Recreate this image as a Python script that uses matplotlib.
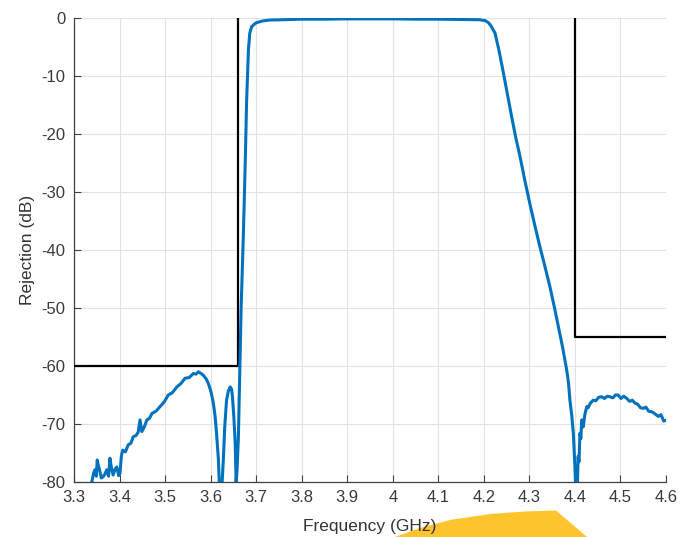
import numpy as np
import matplotlib
matplotlib.use("Agg")
import matplotlib.pyplot as plt
from matplotlib.patches import Polygon

plt.rcParams['font.family'] = ['Liberation Sans', 'DejaVu Sans']
plt.rcParams['axes.unicode_minus'] = False

freq = [3.335, 3.339, 3.343, 3.346, 3.349, 3.351, 3.353, 3.356, 3.360, 3.364, 3.368,
        3.372, 3.376, 3.379, 3.382, 3.386, 3.390, 3.394, 3.398, 3.401, 3.404,
        3.407, 3.413, 3.419, 3.425, 3.430, 3.436, 3.441, 3.445, 3.449, 3.455,
        3.460, 3.466, 3.471, 3.480, 3.489, 3.498, 3.507, 3.516, 3.526, 3.535,
        3.544, 3.553, 3.562, 3.568, 3.573, 3.579, 3.584, 3.590, 3.595, 3.601,
        3.606, 3.610, 3.613, 3.617, 3.619, 3.621, 3.624, 3.628, 3.631, 3.635,
        3.639, 3.643, 3.646, 3.648, 3.651, 3.654, 3.656, 3.658, 3.661, 3.663,
        3.667, 3.672, 3.676, 3.679, 3.683, 3.686, 3.690, 3.697, 3.701, 3.715,
        3.730, 3.760, 3.796, 3.850, 3.900, 3.950, 4.000, 4.050, 4.100, 4.150,
        4.190, 4.203, 4.210, 4.216, 4.2245, 4.233, 4.243, 4.252, 4.261, 4.270,
        4.2795, 4.290, 4.301, 4.312, 4.323, 4.334, 4.345, 4.355, 4.3635, 4.373,
        4.382, 4.386, 4.389, 4.393, 4.3965, 4.400, 4.403, 4.405, 4.407, 4.409,
        4.411, 4.413, 4.415, 4.418, 4.422, 4.426, 4.429, 4.434, 4.440, 4.446,
        4.452, 4.459, 4.465, 4.471, 4.477, 4.483, 4.489, 4.495, 4.501, 4.507,
        4.514, 4.520, 4.526, 4.532, 4.538, 4.544, 4.550, 4.556, 4.562, 4.569,
        4.575, 4.583, 4.589, 4.595, 4.602]
rej = [-80.5, -80.0, -78.5, -77.9, -79.0, -76.2, -77.0, -77.9, -79.3, -79.1, -78.6,
       -77.9, -79.0, -75.9, -77.5, -78.8, -77.8, -77.4, -78.9, -78.5, -75.5,
       -74.5, -74.8, -73.6, -73.3, -72.2, -72.0, -71.4, -69.3, -71.3, -70.4,
       -69.3, -69.0, -68.2, -67.8, -67.0, -66.2, -65.0, -64.6, -63.6, -63.0,
       -62.1, -62.0, -61.3, -61.4, -61.0, -61.3, -61.6, -62.2, -63.0, -64.5,
       -66.4, -68.8, -71.6, -76.0, -80.0, -84.0, -82.0, -76.0, -70.5, -65.9,
       -64.3, -63.6, -64.0, -65.3, -68.8, -73.3, -80.0, -78.0, -72.2, -64.7,
       -50.0, -37.1, -25.0, -14.5, -5.5, -2.6, -1.5, -1.0, -0.8, -0.5,
       -0.35, -0.3, -0.2, -0.2, -0.15, -0.15, -0.15, -0.2, -0.2, -0.25,
       -0.3, -0.45, -0.8, -1.4, -2.6, -5.5, -9.5, -13.3, -17.0, -20.6,
       -23.9, -28.0, -32.0, -35.8, -39.4, -42.8, -46.3, -49.9, -53.2, -56.8,
       -60.7, -63.0, -65.9, -68.5, -71.6, -77.4, -84.0, -82.0, -75.6, -76.5,
       -71.6, -72.5, -69.3, -70.5, -68.3, -67.0, -67.2, -66.4, -65.9, -66.0,
       -65.4, -65.3, -65.6, -65.2, -65.3, -65.5, -65.0, -65.0, -65.6, -65.2,
       -65.6, -66.1, -65.9, -66.4, -66.6, -67.2, -67.3, -67.1, -67.8, -67.9,
       -68.2, -68.7, -68.4, -69.5, -69.3]

# spec mask
mask_lo_f = [3.3, 3.66, 3.66]
mask_lo_db = [-60, -60, 0]
mask_hi_f = [4.4, 4.4, 4.6]
mask_hi_db = [0, -55, -55]

xticks = [3.3, 3.4, 3.5, 3.6, 3.7, 3.8, 3.9, 4.0, 4.1, 4.2, 4.3, 4.4, 4.5, 4.6]
xlabels = ['3.3', '3.4', '3.5', '3.6', '3.7', '3.8', '3.9', '4', '4.1', '4.2', '4.3', '4.4', '4.5', '4.6']
yticks = [-80, -70, -60, -50, -40, -30, -20, -10, 0]
ylabels = ['-80', '-70', '-60', '-50', '-40', '-30', '-20', '-10', '0']

fig = plt.figure(figsize=(6.91, 5.37), dpi=100)
ax = fig.add_axes([74/691, 1 - 482/537, 592/691, 464/537])

ax.plot(mask_lo_f, mask_lo_db, color='black', lw=1.6, zorder=3)
ax.plot(mask_hi_f, mask_hi_db, color='black', lw=1.6, zorder=3)
ax.plot(freq, rej, color='#0072BD', lw=2.2, zorder=4)

ax.set_xlim(3.3, 4.6)
ax.set_ylim(-80, 0)
ax.set_xticks(xticks)
ax.set_xticklabels(xlabels)
ax.set_yticks(yticks)
ax.set_yticklabels(ylabels)
ax.grid(True, color='#e2e2e2', lw=0.8)
ax.set_axisbelow(True)
for s in ['top', 'right']:
    ax.spines[s].set_visible(False)
for s in ['left', 'bottom']:
    ax.spines[s].set_color('#404040')
    ax.spines[s].set_linewidth(0.9)
ax.tick_params(direction='in', length=5, width=0.8, colors='#404040',
               labelsize=12, labelcolor='#3a3a3a', pad=6)
ax.set_xlabel('Frequency (GHz)', fontsize=12.5, color='#333333', labelpad=10)
ax.set_ylabel('Rejection (dB)', fontsize=12.5, color='#333333', labelpad=5)

# yellow blob cut in at the bottom edge of the screenshot
blob = Polygon([[395/691, 0], [420/691, 9/537], [450/691, 17/537], [490/691, 23/537],
                [525/691, 25.5/537], [556/691, 26.5/537], [587/691, 0]],
               closed=True, transform=fig.transFigure,
               facecolor='#FDC42E', edgecolor='none', zorder=-1)
fig.patches.append(blob)

fig.savefig('out.png', dpi=100)
